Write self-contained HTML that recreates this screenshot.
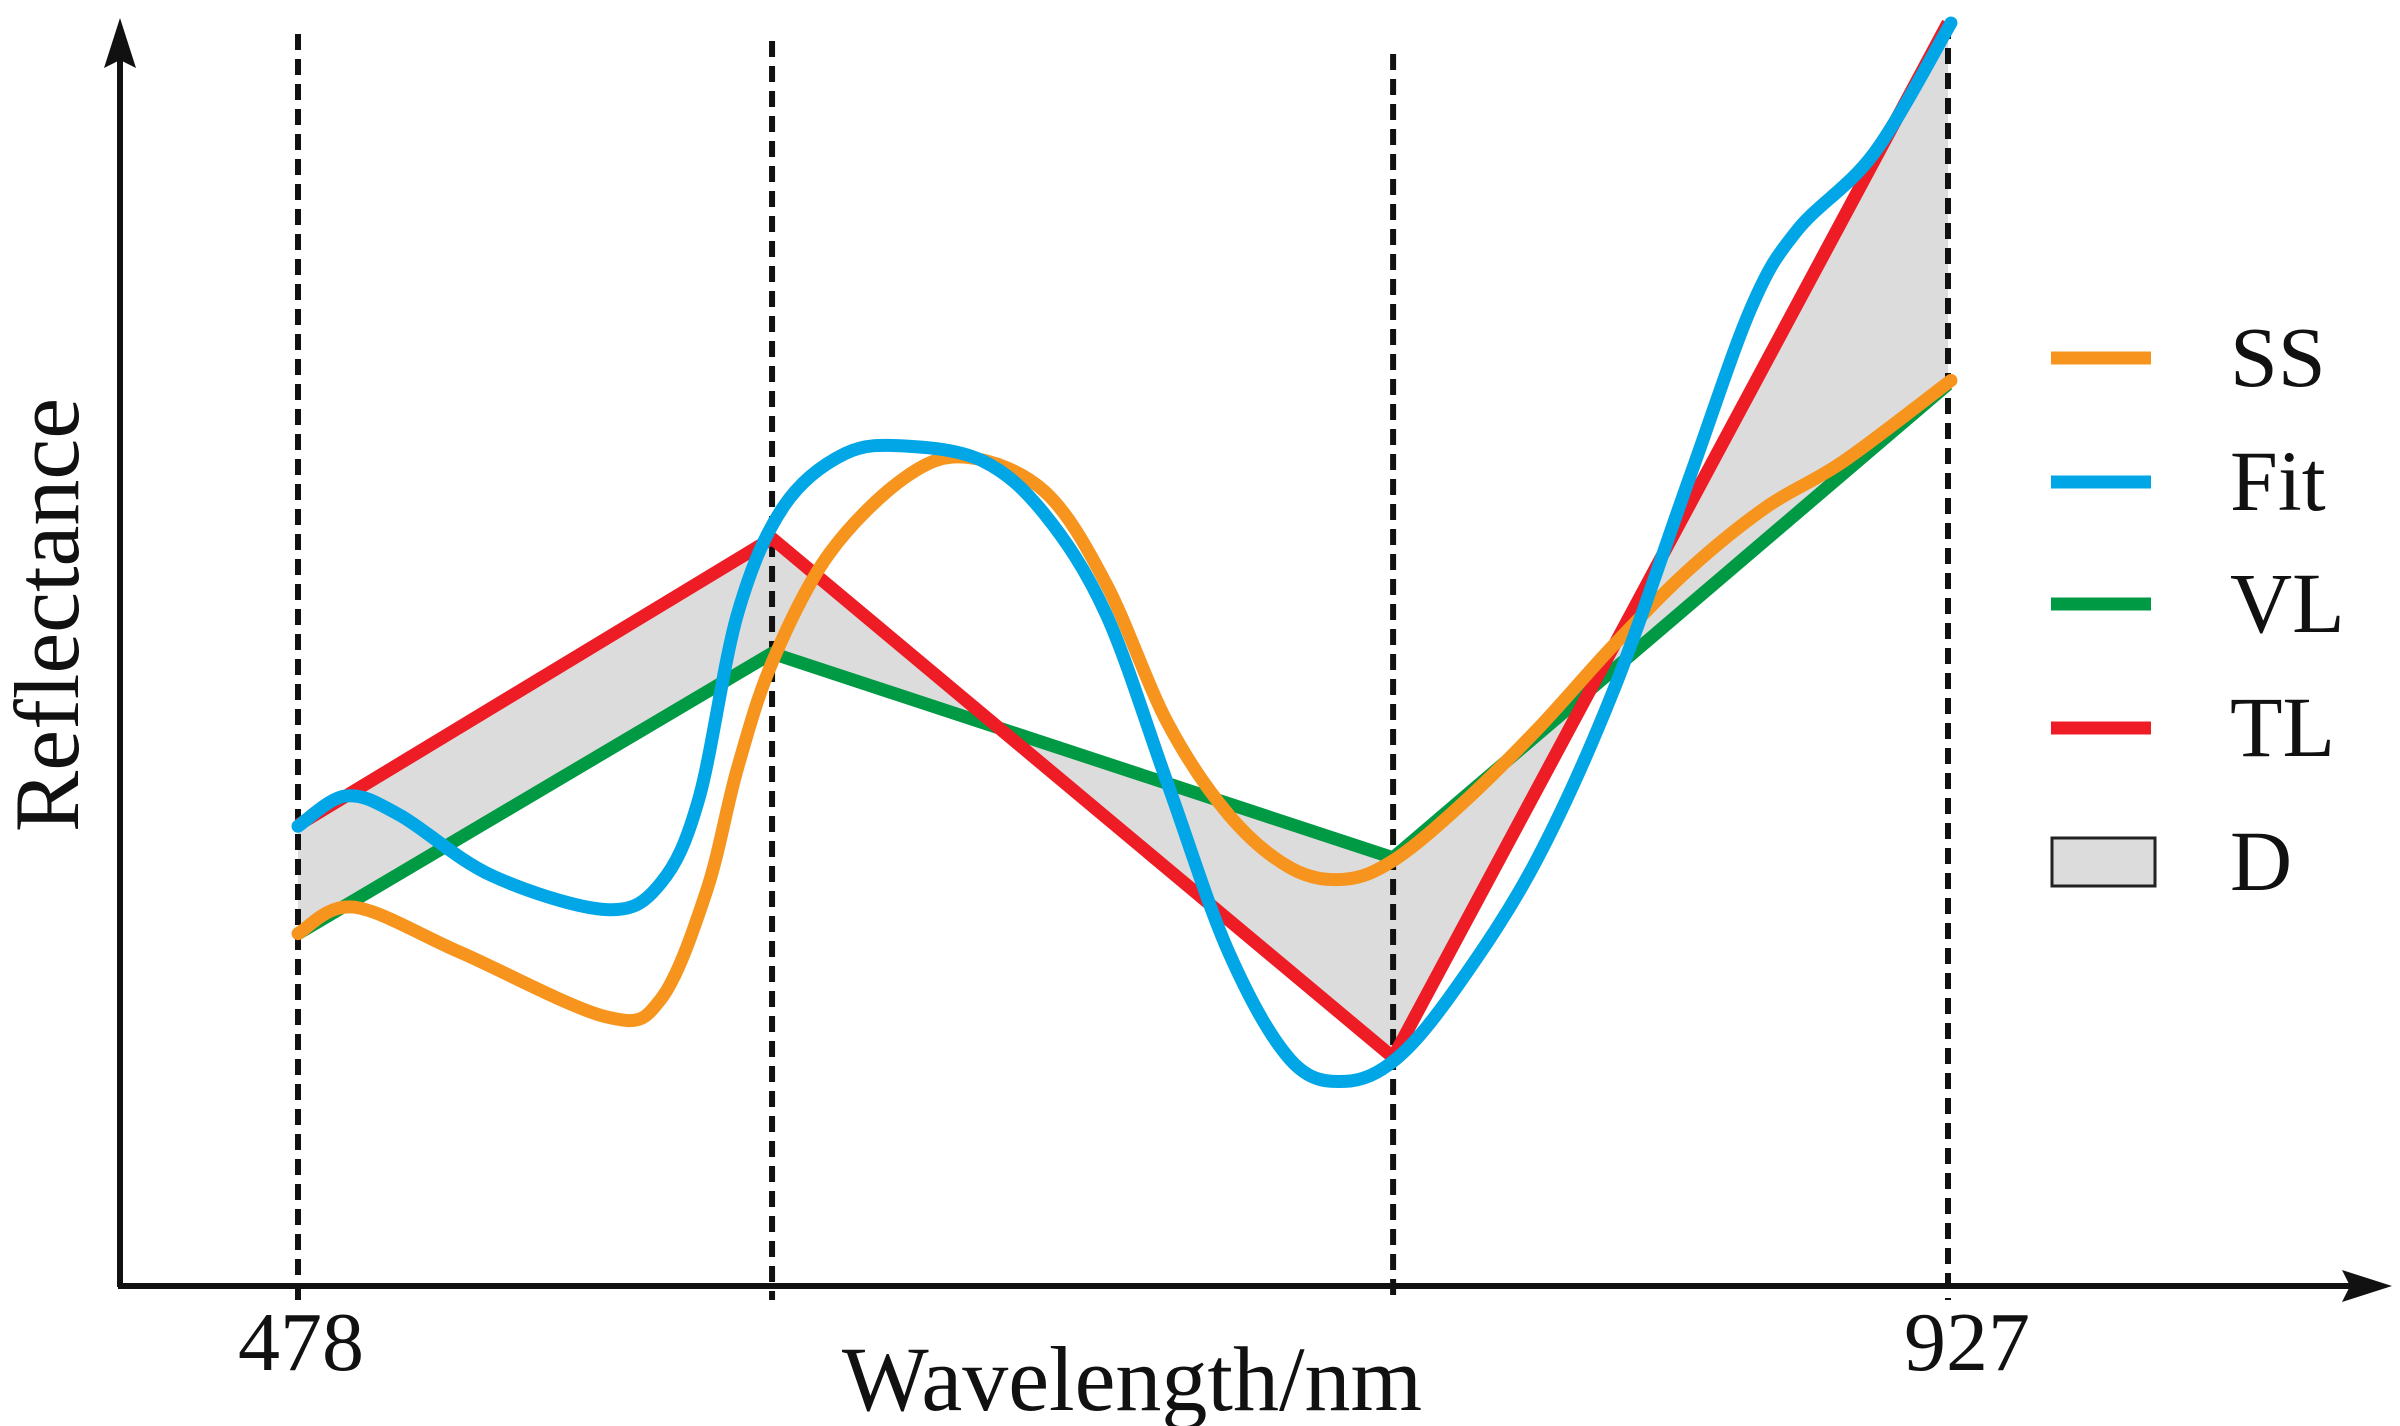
<!DOCTYPE html>
<html><head><meta charset="utf-8"><style>
html,body{margin:0;padding:0;background:#fff;}
svg{display:block;}
text{font-family:"Liberation Serif",serif;fill:#111;}
</style></head><body>
<svg id="chart" width="2400" height="1426" viewBox="0 0 2400 1426" xmlns="http://www.w3.org/2000/svg">
<g id="plot"></g>
<g>
  <line x1="2051" y1="358" x2="2151" y2="358" stroke="#f7941d" stroke-width="13"/>
  <text x="2230" y="386" font-size="86">SS</text>
  <line x1="2051" y1="482" x2="2151" y2="482" stroke="#00a6e6" stroke-width="13"/>
  <text x="2230" y="510" font-size="86">Fit</text>
  <line x1="2051" y1="604" x2="2151" y2="604" stroke="#009a44" stroke-width="13"/>
  <text x="2230" y="632" font-size="86">VL</text>
  <line x1="2051" y1="728" x2="2151" y2="728" stroke="#ee1c25" stroke-width="13"/>
  <text x="2230" y="756" font-size="86">TL</text>
  <rect x="2052" y="838" width="103" height="48" fill="#dcdcdc" stroke="#222" stroke-width="3"/>
  <text x="2230" y="890" font-size="86">D</text>
</g>
<g>
  <line x1="120" y1="1287" x2="120" y2="60" stroke="#111" stroke-width="6"/>
  <polygon points="120,18 104,68 120,60 136,68" fill="#111"/>
  <line x1="118" y1="1286" x2="2350" y2="1286" stroke="#111" stroke-width="6"/>
  <polygon points="2392,1286 2342,1270 2350,1286 2342,1302" fill="#111"/>
  <text x="301" y="1370" font-size="84" text-anchor="middle">478</text>
  <text x="1967" y="1370" font-size="84" text-anchor="middle">927</text>
  <text x="1132" y="1410" font-size="92" text-anchor="middle">Wavelength/nm</text>
  <text transform="translate(78,615) rotate(-90)" font-size="92" text-anchor="middle">Reflectance</text>
</g>
</svg>
<script>
const bandWavelengths=[478,607,776,927];
const tlValues=[36.5,59.2,18.1,100];
const vlValues=[27.9,50.1,33.9,71.4];
const ssWave=[478,493.1,522.3,562,576.7,589.2,597.6,607.2,622.6,643.6,660.3,681.2,697.9,714.6,731.3,748.1,762.7,776.1,794.1,815,835.9,856.8,877.7,898.6,927.8];
const ssValues=[27.9,30,26.4,21.3,22.7,31.3,41,49.5,58,64.1,65.6,62.9,55.6,44.6,37.3,33.1,32.2,33.7,38,44,50.7,56.8,61.7,65.3,71.7];
const fitWave=[478,491,505.6,530.7,562,576.7,587.1,597.6,610.1,626.8,643.6,664.5,681.2,697.9,714.6,731.3,748.1,762.7,777.3,794.1,815,835.9,856.8,873.5,886,906.9,927.8];
const fitValues=[36.4,38.8,37.3,32.5,29.8,31.9,38.6,53.2,61.7,65.9,66.5,65.3,61.1,53.2,39.8,26.4,17.9,16.2,18.1,24,33.7,47.1,64.1,77.5,83.6,89.7,100];
const dashTops=[34,41,54,23];

const NS='http://www.w3.org/2000/svg';
const xS=w=>298+(w-478)*(1948-298)/449;
const yS=r=>1286-r*(1286-23)/100;
const plot=document.getElementById('plot');
function mk(tag,attrs){const e=document.createElementNS(NS,tag);for(const k in attrs)e.setAttribute(k,attrs[k]);plot.appendChild(e);return e;}
function smooth(pts){let d=`M${pts[0][0]},${pts[0][1]}`;for(let i=0;i<pts.length-1;i++){const p0=pts[Math.max(i-1,0)],p1=pts[i],p2=pts[i+1],p3=pts[Math.min(i+2,pts.length-1)];const c1=[p1[0]+(p2[0]-p0[0])/6,p1[1]+(p2[1]-p0[1])/6],c2=[p2[0]-(p3[0]-p1[0])/6,p2[1]-(p3[1]-p1[1])/6];d+=` C${c1[0]},${c1[1]} ${c2[0]},${c2[1]} ${p2[0]},${p2[1]}`;}return d;}

const tlPts=bandWavelengths.map((w,i)=>[xS(w),yS(tlValues[i])]);
const vlPts=bandWavelengths.map((w,i)=>[xS(w),yS(vlValues[i])]);
const area=mk('polygon',{points:tlPts.concat(vlPts.slice().reverse()).map(p=>p.join(',')).join(' '),fill:'#dcdcdc',stroke:'none'});


bandWavelengths.forEach((w,i)=>{
  const l=mk('line',{x1:xS(w),x2:xS(w),y1:dashTops[i],y2:1300,stroke:'#111','stroke-width':6,'stroke-dasharray':'16 9'});
  
  
});
const vl=mk('polyline',{points:vlPts.map(p=>p.join(',')).join(' '),fill:'none',stroke:'#009a44','stroke-width':13,'stroke-linejoin':'round'});


const tl=mk('polyline',{points:tlPts.map(p=>p.join(',')).join(' '),fill:'none',stroke:'#ee1c25','stroke-width':13,'stroke-linejoin':'round'});


const ss=mk('path',{d:smooth(ssWave.map((w,i)=>[xS(w),yS(ssValues[i])])),fill:'none',stroke:'#f7941d','stroke-width':13,'stroke-linecap':'round'});


const fit=mk('path',{d:smooth(fitWave.map((w,i)=>[xS(w),yS(fitValues[i])])),fill:'none',stroke:'#00a6e6','stroke-width':13,'stroke-linecap':'round'});


</script>
</body></html>
